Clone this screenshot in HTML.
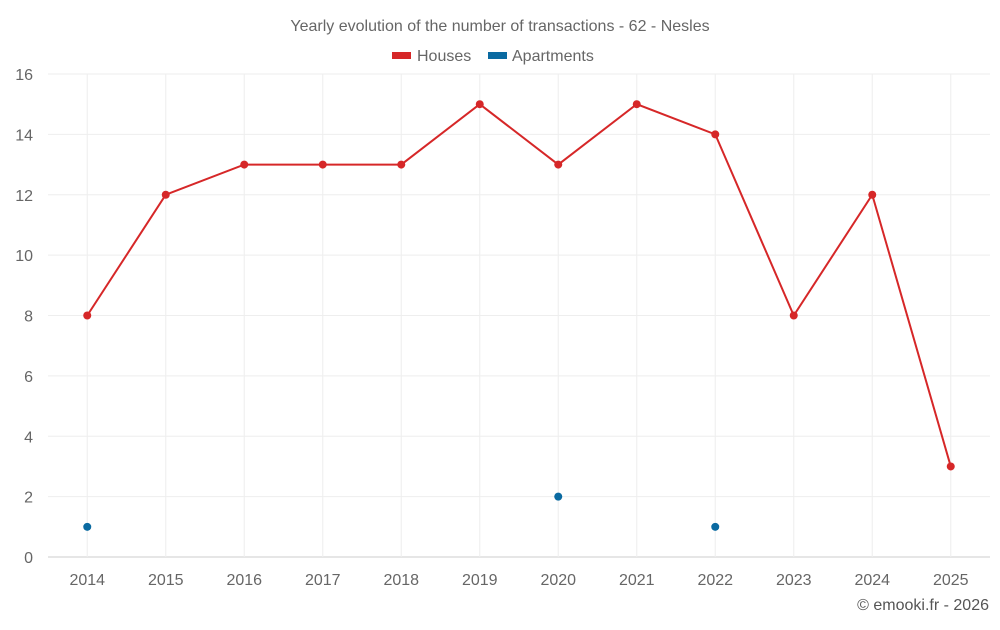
<!DOCTYPE html>
<html><head><meta charset="utf-8"><style>
body{margin:0;background:#fff;font-family:"Liberation Sans",sans-serif}
svg text{font-family:"Liberation Sans",sans-serif}
</style></head><body>
<svg id="c" width="1000" height="625">
<text x="500" y="31" text-anchor="middle" font-size="16" fill="#666">Yearly evolution of the number of transactions - 62 - Nesles</text>
<g>
<g><rect x="392" y="52" width="19" height="7" fill="#d62728"/><text x="417" y="61" font-size="16" fill="#666">Houses</text></g>
<g><rect x="488" y="52" width="19" height="7" fill="#0a6aa1"/><text x="512" y="61" font-size="16" fill="#666">Apartments</text></g>
</g>
<g id="grid"></g><g id="axes"></g><g id="series"></g>
<text x="989" y="610" text-anchor="end" font-size="16" fill="#555">© emooki.fr - 2026</text>
</svg>
<script>
const years=["2014","2015","2016","2017","2018","2019","2020","2021","2022","2023","2024","2025"];
const houses=[8,12,13,13,13,15,13,15,14,8,12,3];
const apartments=[1,null,null,null,null,null,2,null,1,null,null,null];
const yTicks=[0,2,4,6,8,10,12,14,16];
const L=48,R=990,T=74,B=557,ymax=16;
const bw=(R-L)/years.length;
const x=i=>L+bw*(i+0.5);
const y=v=>B-(v/ymax)*(B-T);
const NS="http://www.w3.org/2000/svg";
function mk(p,t,a){const e=document.createElementNS(NS,t);for(const k in a)e.setAttribute(k,a[k]);p.appendChild(e);return e;}
const g=document.getElementById('grid'),ax=document.getElementById('axes'),s=document.getElementById('series');
yTicks.forEach(v=>{
 const l=mk(g,'line',{x1:L,x2:R,y1:y(v),y2:y(v),stroke:v==0?'#ccc':'#eee'});
 
 
 const t=mk(ax,'text',{x:33,y:y(v)+6,'text-anchor':'end','font-size':16,fill:'#666'});t.textContent=v;
 
 
});
years.forEach((yr,i)=>{
 const l=mk(g,'line',{x1:x(i),x2:x(i),y1:T,y2:B,stroke:'#eee'});
 
 
 const t=mk(ax,'text',{x:x(i),y:585,'text-anchor':'middle','font-size':16,fill:'#666'});t.textContent=yr;
 
 
});
const pl=mk(s,'polyline',{points:houses.map((v,i)=>x(i)+','+y(v)).join(' '),fill:'none',stroke:'#d62728','stroke-width':2});


houses.forEach((v,i)=>{const c=mk(s,'circle',{cx:x(i),cy:y(v),r:4,fill:'#d62728'});
 
 });
apartments.forEach((v,i)=>{if(v==null)return;const c=mk(s,'circle',{cx:x(i),cy:y(v),r:4,fill:'#0a6aa1'});
 
 });
</script>
</body></html>
